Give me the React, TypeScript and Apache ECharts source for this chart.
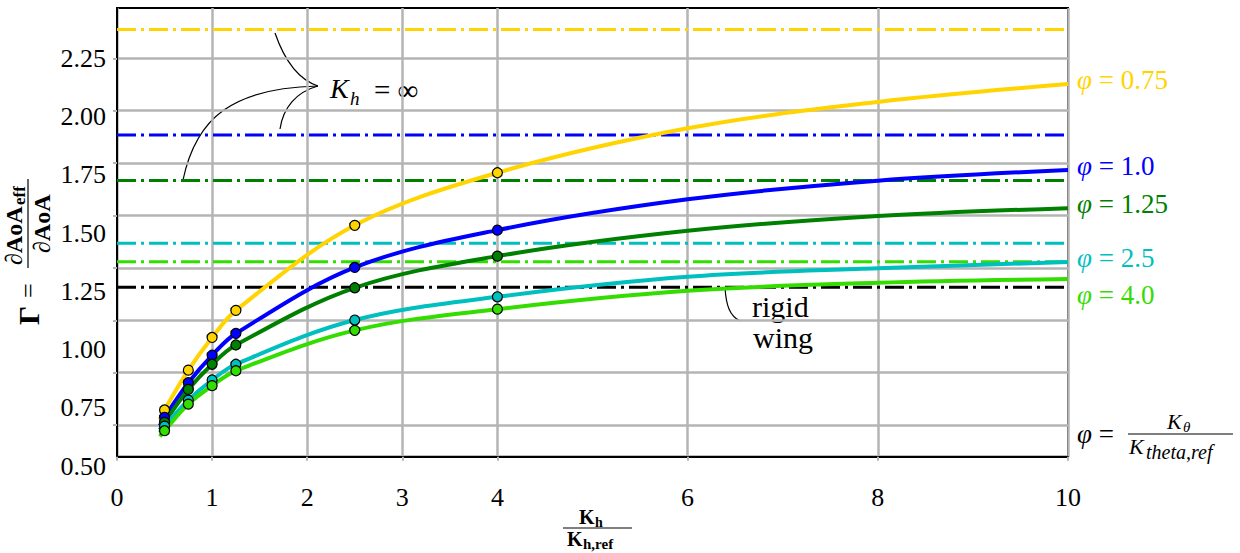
import React, { useEffect, useRef } from "react";
import * as echarts from "echarts";

// Stiffness ratio Kh / Kh,ref at which each curve is sampled
const RATIO_X = [0.45, 0.5, 0.75, 1, 1.25, 2.5, 4, 6, 8, 10];
// Ratios where a computed case exists (drawn as markers)
const MARKER_X = [0.5, 0.75, 1, 1.25, 2.5, 4];

// Gamma = dAoA_eff / dAoA for each pitch-stiffness ratio phi
const GAMMA_PHI_075 = [0.525, 0.572, 0.762, 0.918, 1.047, 1.453, 1.704, 1.916, 2.042, 2.127];
const GAMMA_PHI_100 = [0.497, 0.537, 0.702, 0.833, 0.937, 1.252, 1.43, 1.577, 1.666, 1.717];
const GAMMA_PHI_125 = [0.477, 0.513, 0.67, 0.79, 0.882, 1.155, 1.306, 1.427, 1.497, 1.535];
const GAMMA_PHI_250 = [0.465, 0.495, 0.619, 0.715, 0.79, 1.001, 1.112, 1.208, 1.248, 1.278];
const GAMMA_PHI_400 = [0.445, 0.473, 0.6, 0.688, 0.759, 0.952, 1.053, 1.141, 1.179, 1.197];

// Limit Kh = infinity for each phi, and the rigid wing value
const GAMMA_KH_INF = [2.388, 1.884, 1.667, 1.367, 1.279];
const GAMMA_RIGID_WING = 1.157;

const PHI_LABELS = ["0.75", "1.0", "1.25", "2.5", "4.0"];
const PHI_COLORS = ["#ffd400", "#0000ff", "#008000", "#00bfbf", "#33dd00"];
const PHI_LABEL_Y = [80, 166, 204, 258, 295];

const X_TICKS = [0, 1, 2, 3, 4, 6, 8, 10];
const Y_TICKS = [0.5, 0.75, 1.0, 1.25, 1.5, 1.75, 2.0, 2.25];

const SERIF = '"Liberation Serif", "Times New Roman", serif';
const GRID_GRAY = "#b4b4b4";
const DASH_DOT = [19, 5, 3, 5];

const CURVES = [GAMMA_PHI_075, GAMMA_PHI_100, GAMMA_PHI_125, GAMMA_PHI_250, GAMMA_PHI_400];

function buildOption() {
  const series: any[] = [];

  GAMMA_KH_INF.forEach((v, i) => {
    series.push({
      type: "line",
      name: "Kh=inf phi=" + PHI_LABELS[i],
      data: [[0, v], [10, v]],
      symbol: "none",
      lineStyle: { color: PHI_COLORS[i], width: 3, type: DASH_DOT },
      z: 2,
    });
  });
  series.push({
    type: "line",
    name: "rigid wing",
    data: [[0, GAMMA_RIGID_WING], [10, GAMMA_RIGID_WING]],
    symbol: "none",
    lineStyle: { color: "#000", width: 3, type: DASH_DOT },
    z: 2,
  });

  CURVES.forEach((vals, i) => {
    series.push({
      type: "line",
      name: "phi=" + PHI_LABELS[i],
      data: RATIO_X.map((x, k) => [x, vals[k]]),
      smooth: 0.35,
      symbol: "none",
      lineStyle: { color: PHI_COLORS[i], width: 4 },
      z: 3,
    });
  });

  CURVES.forEach((vals, i) => {
    series.push({
      type: "scatter",
      name: "cases phi=" + PHI_LABELS[i],
      data: RATIO_X.map((x, k) => [x, vals[k]]).filter((p) => MARKER_X.includes(p[0])),
      symbol: "circle",
      symbolSize: 10,
      itemStyle: { color: PHI_COLORS[i], borderColor: "#000", borderWidth: 1.2, opacity: 1 },
      z: 4,
    });
  });

  const txt = (text: string, x: number, y: number, font: string, extra: any = {}) => ({
    type: "text",
    x,
    y,
    silent: true,
    style: { text, font, fill: "#000", align: "left", verticalAlign: "middle", ...extra },
  });
  const curve = (x1: number, y1: number, cpx1: number, cpy1: number, cpx2: number, cpy2: number, x2: number, y2: number) => ({
    type: "bezierCurve",
    silent: true,
    shape: { x1, y1, cpx1, cpy1, cpx2, cpy2, x2, y2 },
    style: { stroke: "#000", lineWidth: 1.2, fill: null },
  });

  const graphic: any[] = [
    // K_h = infinity annotation
    txt("K", 330, 88, `italic 28px ${SERIF}`),
    txt("h", 350, 98, `italic 19px ${SERIF}`),
    txt("= \u221e", 374, 90, `29px ${SERIF}`),
    curve(275, 33, 285, 62, 300, 80, 318, 86),
    curve(280, 129, 283, 108, 296, 92, 318, 86),
    curve(183, 180, 196, 118, 232, 88, 318, 86),

    // rigid wing annotation
    txt("rigid", 752, 306, `30px ${SERIF}`),
    txt("wing", 753, 337, `30px ${SERIF}`),
    curve(725, 287, 726, 306, 730, 316, 740, 321),

    // phi labels at the right edge
    ...PHI_LABELS.map((lab, i) => ({
      type: "text",
      x: 1077,
      y: PHI_LABEL_Y[i],
      silent: true,
      style: {
        text: "{i|\u03c6} = " + lab,
        font: `27px ${SERIF}`,
        fill: PHI_COLORS[i],
        verticalAlign: "middle",
        rich: { i: { fontStyle: "italic", fontSize: 27, fontFamily: SERIF, fill: PHI_COLORS[i] } },
      },
    })),

    // phi = K_theta / K_theta,ref
    {
      type: "text",
      x: 1077,
      y: 434,
      silent: true,
      style: {
        text: "{i|\u03c6} =",
        font: `27px ${SERIF}`,
        fill: "#000",
        verticalAlign: "middle",
        rich: { i: { fontStyle: "italic", fontSize: 27, fontFamily: SERIF } },
      },
    },
    txt("K", 1167, 421, `italic 22px ${SERIF}`),
    txt("\u03b8", 1183, 427, `italic 15px ${SERIF}`),
    { type: "line", silent: true, shape: { x1: 1128, y1: 434, x2: 1233, y2: 434 }, style: { stroke: "#000", lineWidth: 1.2 } },
    txt("K", 1129, 446, `italic 22px ${SERIF}`),
    txt("theta,ref", 1146, 452, `italic 20px ${SERIF}`),

    // x-axis title: Kh / Kh,ref
    txt("K", 579, 517, `bold 20px ${SERIF}`),
    txt("h", 595, 522, `bold 14px ${SERIF}`),
    { type: "line", silent: true, shape: { x1: 563, y1: 528, x2: 632, y2: 528 }, style: { stroke: "#000", lineWidth: 1.2 } },
    txt("K", 567, 539, `bold 20px ${SERIF}`),
    txt("h,ref", 583, 544, `bold 15px ${SERIF}`),

    // y-axis title, rotated: Gamma = dAoA_eff / dAoA
    {
      type: "group",
      x: 28,
      y: 325,
      rotation: Math.PI / 2,
      silent: true,
      children: [
        txt("\u0393", 0, 0, `bold 30px ${SERIF}`),
        txt("=", 27, 0, `26px ${SERIF}`),
        { type: "line", shape: { x1: 57, y1: 0, x2: 146, y2: 0 }, style: { stroke: "#000", lineWidth: 1.2 } },
        txt("\u2202AoA", 60, -14, `bold 24px ${SERIF}`),
        txt("eff", 120, -9, `bold 17px ${SERIF}`),
        txt("\u2202AoA", 72, 14, `bold 24px ${SERIF}`),
      ],
    },
  ];

  return {
    animation: false,
    backgroundColor: "#ffffff",
    textStyle: { fontFamily: SERIF },
    grid: [
      { left: 117, top: 8, width: 951, height: 448.7, show: true, borderColor: "#000", borderWidth: 2, backgroundColor: "transparent" },
      // frame used only to place the Gamma tick labels
      { left: 117, top: 58.3, width: 951, height: 407.7, show: false },
    ],
    xAxis: [
      {
        type: "value",
        gridIndex: 0,
        min: 0,
        max: 10,
        axisLine: { show: true, lineStyle: { color: "#000", width: 2 } },
        axisTick: { show: true, customValues: X_TICKS, length: 4, lineStyle: { color: GRID_GRAY, width: 2 } },
        axisLabel: {
          customValues: X_TICKS,
          fontSize: 26,
          color: "#000",
          margin: 28,
          fontFamily: SERIF,
          formatter: (v: number) => String(v),
        },
        splitLine: { show: true, lineStyle: { color: GRID_GRAY, width: 2.5 } },
      },
      { type: "value", gridIndex: 1, min: 0, max: 1, show: false },
    ],
    yAxis: [
      {
        type: "value",
        gridIndex: 0,
        min: 0.349,
        max: 2.49,
        axisLine: { show: true, lineStyle: { color: "#000", width: 2 } },
        axisTick: { show: true, customValues: Y_TICKS, length: 4, lineStyle: { color: GRID_GRAY, width: 2 } },
        axisLabel: { show: false },
        splitLine: { show: true, lineStyle: { color: GRID_GRAY, width: 2.5 } },
      },
      {
        type: "value",
        gridIndex: 1,
        min: 0.5,
        max: 2.25,
        interval: 0.25,
        axisLine: { show: false },
        axisTick: { show: false },
        splitLine: { show: false },
        axisLabel: {
          fontSize: 26,
          color: "#000",
          margin: 11,
          fontFamily: SERIF,
          formatter: (v: number) => v.toFixed(2),
        },
      },
    ],
    series,
    graphic,
  };
}

export default function App() {
  const ref = useRef<HTMLDivElement>(null);
  useEffect(() => {
    if (!ref.current) return;
    const chart = echarts.init(ref.current, undefined, { renderer: "svg" });
    chart.setOption(buildOption());
    return () => chart.dispose();
  }, []);
  return (
    <div
      ref={ref}
      style={{ position: "fixed", left: 0, top: 0, width: 1240, height: 553, background: "#fff" }}
    />
  );
}
